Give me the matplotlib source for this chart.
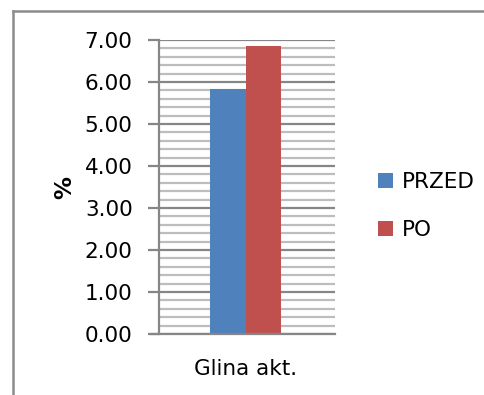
import numpy as np
import matplotlib.pyplot as plt
from matplotlib.lines import Line2D
from matplotlib.ticker import MultipleLocator, FormatStrFormatter

categories = ["Glina akt."]
series = ["PRZED", "PO"]
values = [[5.83], [6.86]]
colors = ["#4F81BD", "#C0504D"]

plt.rcParams['font.family'] = ['DejaVu Sans']

fig = plt.figure(figsize=(4.84, 3.95), dpi=100)
ax = fig.add_axes([159 / 484, 61 / 395, 176 / 484, 294 / 395])

x = np.arange(len(categories))
width = 0.2
for i, (name, vals, c) in enumerate(zip(series, values, colors)):
    ax.bar(x + (i - 0.5) * width, vals, width, color=c, label=name, zorder=3)

ax.set_xlim(-0.490, 0.5015)
ax.set_ylim(0, 7)
ax.yaxis.set_major_locator(MultipleLocator(1))
ax.yaxis.set_minor_locator(MultipleLocator(0.2))
ax.yaxis.set_major_formatter(FormatStrFormatter('%.2f'))

ax.grid(which='major', axis='y', color='#868686', linewidth=1.6, zorder=1)
ax.grid(which='minor', axis='y', color='#bdbdbd', linewidth=1.6, zorder=0)
ax.tick_params(axis='y', which='major', length=8, width=1.6, color='#868686',
               labelsize=15.5, pad=11)
ax.tick_params(axis='y', which='minor', length=0)
ax.tick_params(axis='x', length=0, labelsize=15.5, pad=18)
ax.set_xticks(x)
ax.set_xticklabels(categories)

for s in ['top', 'right']:
    ax.spines[s].set_visible(False)
ax.spines['left'].set_color('#868686')
ax.spines['left'].set_linewidth(1.6)
ax.spines['bottom'].set_color('#868686')
ax.spines['bottom'].set_linewidth(1.6)
ax.spines['bottom'].set_bounds(-0.490 - 0.045, 0.5015)
ax.spines['bottom'].set_zorder(4)

ax.set_ylabel('%', fontsize=16.5, fontweight='bold', labelpad=6)

ax.legend(loc='center left', bbox_to_anchor=(363 / 484, 1 - 206 / 395),
          bbox_transform=fig.transFigure, frameon=False, fontsize=15.5,
          handlelength=0.7, handleheight=0.7, handletextpad=0.4,
          labelspacing=1.3, borderpad=0.2)

# outer chart border (left and top edges)
fig.add_artist(Line2D([12.5 / 484, 12.5 / 484], [0, 1 - 10.5 / 395],
                      color='#8c8c8c', linewidth=1.8))
fig.add_artist(Line2D([12.5 / 484, 1], [1 - 10.5 / 395, 1 - 10.5 / 395],
                      color='#8c8c8c', linewidth=1.8))

fig.savefig('out.png', dpi=100)
